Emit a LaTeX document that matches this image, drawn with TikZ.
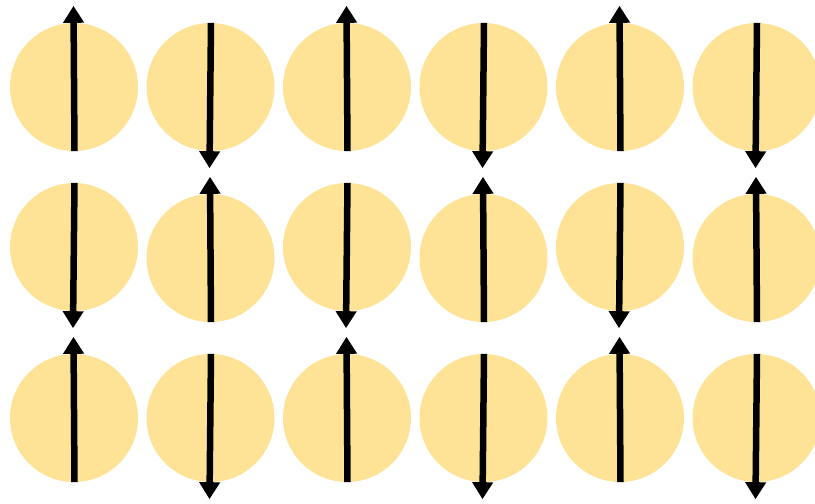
\documentclass[tikz,border=0pt]{standalone}
\usetikzlibrary{arrows.meta,calc}
\definecolor{ballfill}{HTML}{FEE397}
\tikzset{
  ball/.style={circle,fill=ballfill,draw=none,minimum size=128pt,inner sep=0pt},
  spin/.style={line width=6.5pt,-{Triangle[width=20pt,length=17pt]}}
}
\begin{document}
\begin{tikzpicture}[x=1pt,y=-1pt]
\useasboundingbox (0,0) rectangle (815,504);
\foreach \r/\yo/\ye/\dir in {1/87/87/1, 2/247/258/-1, 3/418/418/1} {
  \foreach \i in {0,...,5} {
    \pgfmathsetmacro{\x}{74+136.5*\i}
    \pgfmathtruncatemacro{\odd}{mod(\i,2)}
    \pgfmathsetmacro{\y}{\odd==0 ? \yo : \ye}
    \pgfmathtruncatemacro{\up}{(\odd==0 ? 1 : -1)*\dir}
    \node[ball] (b\r\i) at (\x,\y) {};
    \ifnum\up=1
      \draw[spin] ($(b\r\i.south)+(0.5,0)$) -- ($(b\r\i.north)+(-0.5,-17)$);
    \else
      \draw[spin] ($(b\r\i.north)+(0.5,0)$) -- ($(b\r\i.south)+(-1,17)$);
    \fi
  }
}
\end{tikzpicture}
\end{document}
